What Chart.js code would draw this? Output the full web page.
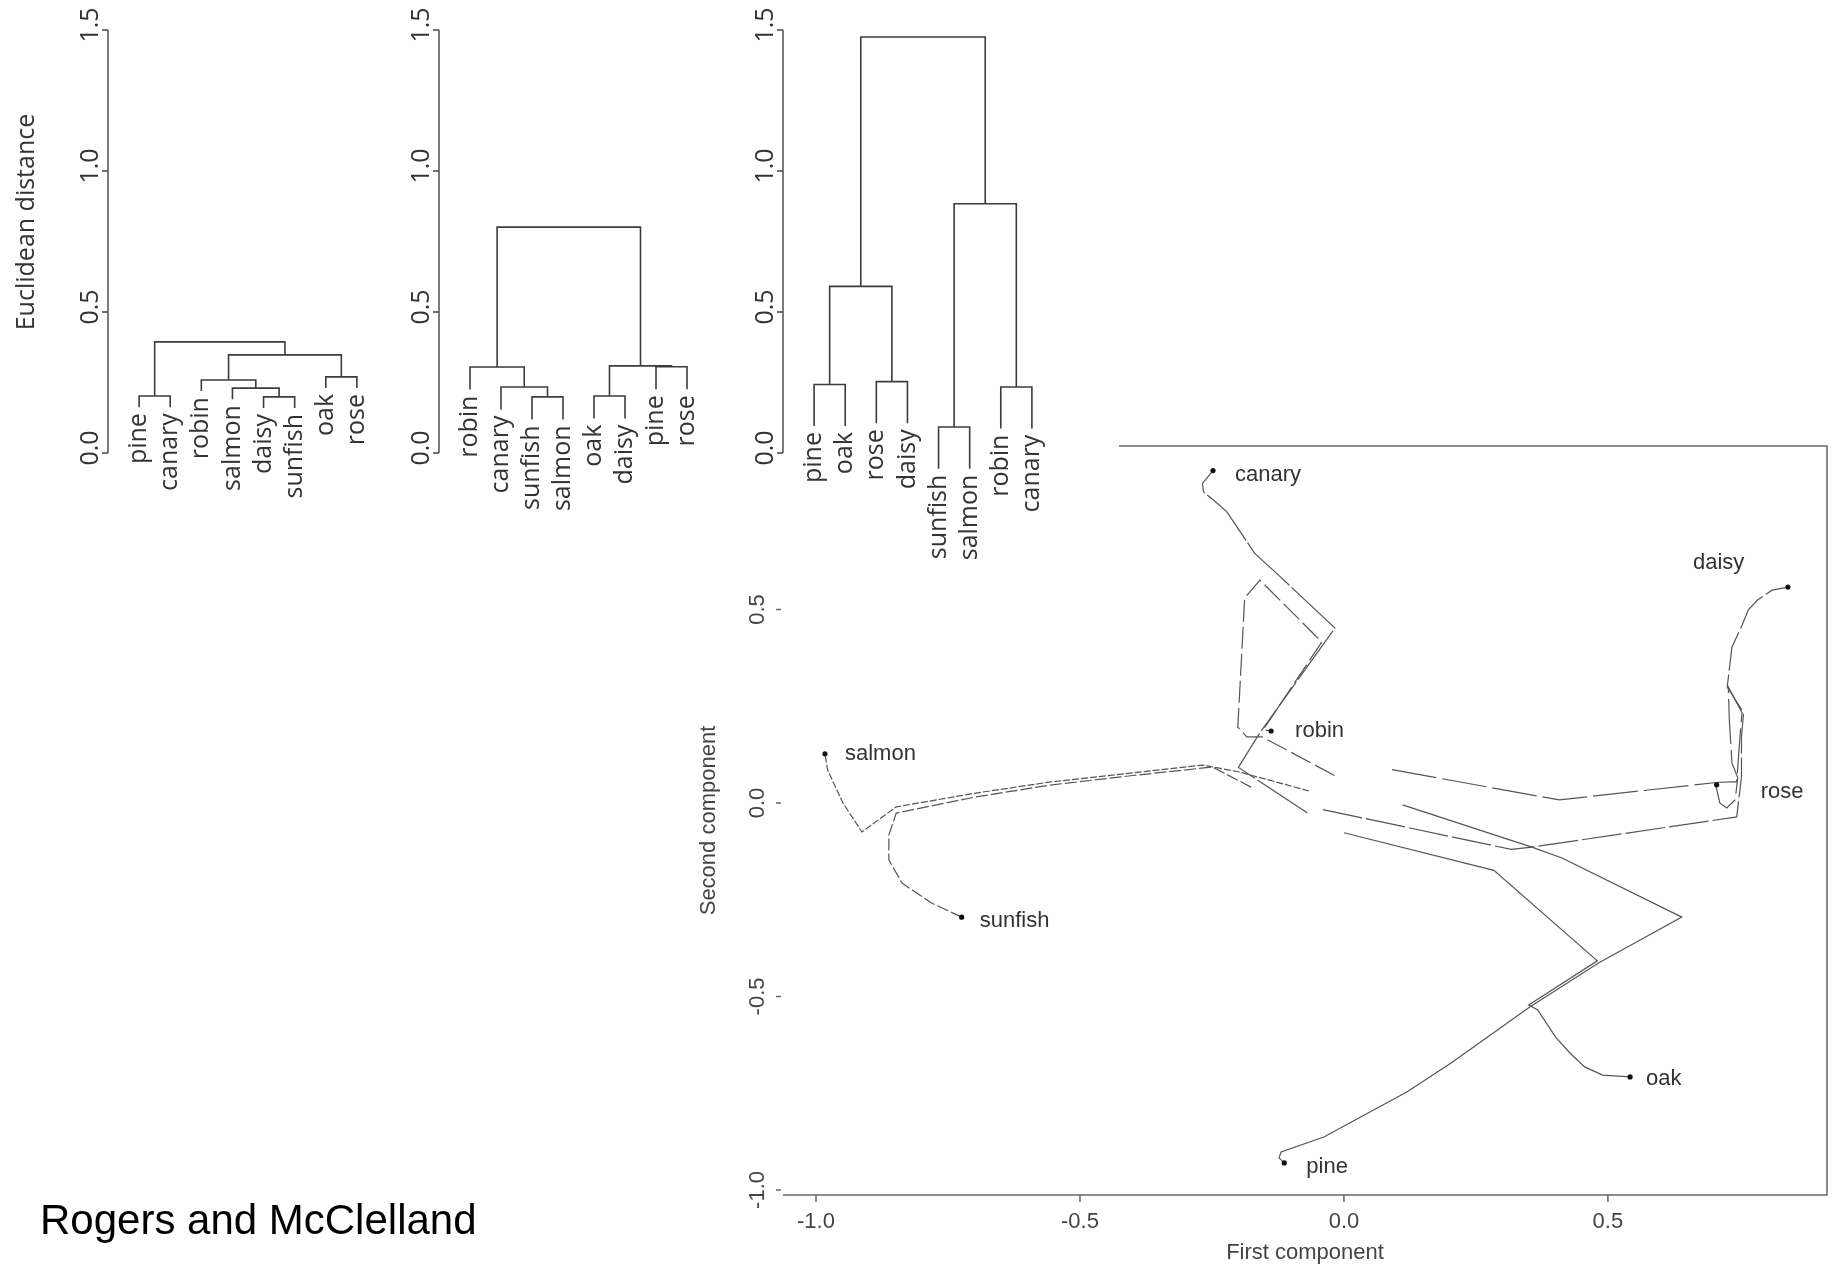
<!DOCTYPE html>
<html>
<head>
<meta charset="utf-8">
<script src="https://cdn.jsdelivr.net/npm/chart.js@4.4.1/dist/chart.umd.min.js"></script>
<style>
  html, body { margin: 0; padding: 0; background: #fff; }
  #page { position: relative; width: 1837px; height: 1270px; overflow: hidden; }
  #page canvas { position: absolute; left: 0; top: 0; }
  #credit {
    position: absolute; left: 40px; top: 1199px;
    font-family: "Liberation Sans", Arial, sans-serif;
    font-size: 42px; line-height: 42px; color: #000; white-space: nowrap;
  }
</style>
</head>
<body>
<div id="page">
  <canvas id="pcaChart" width="1837" height="1270"></canvas>
  <canvas id="dendro1" width="1837" height="1270"></canvas>
  <canvas id="dendro2" width="1837" height="1270"></canvas>
  <canvas id="dendro3" width="1837" height="1270"></canvas>
  <div id="credit">Rogers and McClelland</div>
</div>

<script>
// ---------- dendrogram data (leaf order, hclust-style merges, merge heights) ----------
const distTicks = [0, 0.5, 1, 1.5];

const leaves1 = ['pine', 'canary', 'robin', 'salmon', 'daisy', 'sunfish', 'oak', 'rose'];
const merges1 = [[-1, -2], [-5, -6], [-4, 2], [-3, 3], [-7, -8], [4, 5], [1, 6]];
const heights1 = [0.202, 0.199, 0.230, 0.259, 0.270, 0.348, 0.394];

const leaves2 = ['robin', 'canary', 'sunfish', 'salmon', 'oak', 'daisy', 'pine', 'rose'];
const merges2 = [[-3, -4], [-2, 1], [-1, 2], [-5, -6], [-7, -8], [4, 5], [3, 6]];
const heights2 = [0.199, 0.234, 0.305, 0.202, 0.306, 0.309, 0.801];

const leaves3 = ['pine', 'oak', 'rose', 'daisy', 'sunfish', 'salmon', 'robin', 'canary'];
const merges3 = [[-5, -6], [-1, -2], [-7, -8], [-3, -4], [2, 4], [1, 3], [5, 6]];
const heights3 = [0.092, 0.243, 0.234, 0.253, 0.591, 0.884, 1.475];

// ---------- trajectories in the first two principal components ----------
const itemNames = ['canary', 'robin', 'salmon', 'sunfish', 'daisy', 'rose', 'oak', 'pine'];

const canaryPath = [[-0.069, -0.026], [-0.200, 0.092], [-0.160, 0.180], [-0.017, 0.452], [-0.128, 0.594],
  [-0.169, 0.645], [-0.222, 0.753], [-0.244, 0.779], [-0.266, 0.804], [-0.268, 0.826], [-0.248, 0.859]];
const robinPath = [[-0.018, 0.071], [-0.155, 0.171], [-0.184, 0.171], [-0.201, 0.196], [-0.195, 0.350],
  [-0.188, 0.530], [-0.159, 0.576], [-0.042, 0.416], [-0.153, 0.189], [-0.138, 0.186]];
const salmonPath = [[-0.066, 0.031], [-0.198, 0.080], [-0.267, 0.098], [-0.400, 0.078], [-0.558, 0.054],
  [-0.700, 0.025], [-0.848, -0.010], [-0.913, -0.075], [-0.949, 0.000], [-0.978, 0.085], [-0.983, 0.127]];
const sunfishPath = [[-0.176, 0.041], [-0.249, 0.093], [-0.400, 0.071], [-0.558, 0.046], [-0.700, 0.015],
  [-0.848, -0.026], [-0.862, -0.083], [-0.862, -0.147], [-0.837, -0.207], [-0.782, -0.258], [-0.724, -0.295]];
const daisyPath = [[-0.040, -0.017], [0.317, -0.120], [0.356, -0.114], [0.744, -0.036], [0.753, 0.067],
  [0.753, 0.171], [0.757, 0.233], [0.726, 0.300], [0.735, 0.403], [0.753, 0.456], [0.766, 0.499],
  [0.784, 0.525], [0.811, 0.550], [0.841, 0.558]];
const rosePath = [[0.091, 0.086], [0.408, 0.008], [0.705, 0.053], [0.744, 0.055], [0.750, 0.170],
  [0.754, 0.233], [0.728, 0.300], [0.730, 0.214], [0.735, 0.103], [0.746, 0.065], [0.741, 0.008],
  [0.725, -0.013], [0.712, 0.000], [0.705, 0.041], [0.706, 0.047]];
const oakPath = [[0.000, -0.077], [0.284, -0.174], [0.480, -0.408], [0.350, -0.522], [0.367, -0.535],
  [0.401, -0.605], [0.428, -0.646], [0.456, -0.682], [0.490, -0.703], [0.542, -0.708]];
const pinePath = [[0.111, -0.005], [0.356, -0.114], [0.413, -0.142], [0.640, -0.295], [0.483, -0.413],
  [0.352, -0.527], [0.203, -0.672], [0.119, -0.747], [-0.038, -0.863], [-0.119, -0.902], [-0.123, -0.917],
  [-0.113, -0.930]];

const itemPaths = [canaryPath, robinPath, salmonPath, sunfishPath, daisyPath, rosePath, oakPath, pinePath];

const pcaTicks = [-1, -0.5, 0, 0.5];
const pcaXRange = [-1.0625, 0.915];
const pcaYRange = [-1.013, 0.9225];

// ---------- styles ----------
const dendroFont = '25px "Open Sans", "Noto Sans", sans-serif';
const pcaFont = '22px "Liberation Sans", Arial, sans-serif';
const dashStyles = { canary: [60, 3], robin: [22, 5], salmon: [7, 2], sunfish: [12, 3],
                     daisy: [40, 4], rose: [45, 6], oak: [], pine: [] };
// label offset from the end point, in pixels
const labelOffsets = { canary: [22, 4], robin: [24, 0], salmon: [20, 0], sunfish: [18, 4],
                       daisy: [-95, -24], rose: [44, 7], oak: [16, 2], pine: [22, 4] };

// Turn merges into U-shaped line pieces, like plot(hclust) does
function buildDendrogram(merges, heights) {
    const hang = 0.1 * Math.max(...heights);
    const nodeX = [];
    const leafEnd = {};
    const xOf = c => (c < 0 ? -c - 1 : nodeX[c - 1]);
    const bottomOf = (c, h) => {
        if (c < 0) { leafEnd[-c - 1] = h - hang; return h - hang; }
        return heights[c - 1];
    };
    const pieces = merges.map(([a, b], i) => {
        const h = heights[i];
        const xa = xOf(a), xb = xOf(b);
        nodeX.push((xa + xb) / 2);
        return [
            { x: xa, y: bottomOf(a, h) }, { x: xa, y: h },
            { x: xb, y: h }, { x: xb, y: bottomOf(b, h) }
        ];
    });
    return { pieces, leafEnd };
}

// Axis, tick labels and leaf labels for a dendrogram
const dendroAxisPlugin = {
    id: 'dendroAxis',
    afterDraw(chart, args, opts) {
        const { ctx, chartArea, scales: { x, y } } = chart;
        const ax = chartArea.left;
        ctx.save();
        ctx.strokeStyle = '#444';
        ctx.lineWidth = 1.4;
        ctx.beginPath();
        ctx.moveTo(ax, y.getPixelForValue(0));
        ctx.lineTo(ax, y.getPixelForValue(1.5));
        distTicks.forEach(t => {
            const py = y.getPixelForValue(t);
            ctx.moveTo(ax - 6, py);
            ctx.lineTo(ax, py);
        });
        ctx.stroke();

        ctx.fillStyle = '#333';
        ctx.font = dendroFont;
        ctx.textBaseline = 'middle';
        // tick labels
        distTicks.forEach(t => {
            ctx.save();
            ctx.translate(ax - 17, y.getPixelForValue(t) - 5);
            ctx.rotate(-Math.PI / 2);
            ctx.textAlign = 'center';
            ctx.fillText(t.toFixed(1), 0, 0);
            ctx.restore();
        });
        // leaf labels, reading upwards, ending under the leaf
        opts.labels.forEach((name, i) => {
            ctx.save();
            ctx.translate(x.getPixelForValue(i), y.getPixelForValue(opts.leafEnd[i]) + 6);
            ctx.rotate(-Math.PI / 2);
            ctx.textAlign = 'right';
            ctx.fillText(name, 0, 0);
            ctx.restore();
        });
        if (opts.title) {
            ctx.save();
            ctx.translate(27, 222);
            ctx.rotate(-Math.PI / 2);
            ctx.textAlign = 'center';
            ctx.fillText(opts.title, 0, 0);
            ctx.restore();
        }
        ctx.restore();
    }
};

function makeDendrogram(canvasId, labels, merges, heights, padding, title) {
    const tree = buildDendrogram(merges, heights);
    return new Chart(document.getElementById(canvasId), {
        type: 'scatter',
        data: {
            datasets: tree.pieces.map(p => ({
                data: p,
                showLine: true,
                borderColor: '#3c3c3c',
                borderWidth: 1.6,
                pointRadius: 0,
                clip: false
            }))
        },
        options: {
            responsive: false,
            animation: false,
            events: [],
            layout: { padding },
            scales: {
                x: { type: 'linear', min: -1, max: 8, display: false },
                y: { type: 'linear', min: 0, max: 1.5, display: false }
            },
            plugins: {
                legend: { display: false },
                tooltip: { enabled: false },
                dendroAxis: { labels, leafEnd: tree.leafEnd, title }
            }
        },
        plugins: [dendroAxisPlugin]
    });
}

makeDendrogram('dendro1', leaves1, merges1, heights1, { left: 108, right: 1449, top: 30, bottom: 817 }, 'Euclidean distance');
makeDendrogram('dendro2', leaves2, merges2, heights2, { left: 439, right: 1119, top: 30, bottom: 817 }, null);
makeDendrogram('dendro3', leaves3, merges3, heights3, { left: 783, right: 774, top: 30, bottom: 817 }, null);

// Frame, ticks, axis titles and item labels for the trajectory plot
const pcaFramePlugin = {
    id: 'pcaFrame',
    afterDraw(chart) {
        const { ctx, chartArea: a, scales: { x, y } } = chart;
        ctx.save();
        ctx.strokeStyle = '#666';
        ctx.lineWidth = 1.5;
        ctx.beginPath();
        ctx.moveTo(a.left, a.bottom);
        ctx.lineTo(a.right, a.bottom);
        ctx.lineTo(a.right, a.top);
        ctx.lineTo(1119, a.top); // the rest of the top edge is hidden under the dendrogram panel
        pcaTicks.forEach(v => {
            const px = x.getPixelForValue(v);
            ctx.moveTo(px, a.bottom);
            ctx.lineTo(px, a.bottom + 7);
            const py = y.getPixelForValue(v);
            ctx.moveTo(a.left - 7, py);
            ctx.lineTo(a.left - 2, py);
        });
        ctx.stroke();

        ctx.fillStyle = '#444';
        ctx.font = pcaFont;
        ctx.textBaseline = 'middle';
        ctx.textAlign = 'center';
        pcaTicks.forEach(v => {
            ctx.fillText(v.toFixed(1), x.getPixelForValue(v), a.bottom + 27);
            ctx.save();
            ctx.translate(a.left - 25, y.getPixelForValue(v));
            ctx.rotate(-Math.PI / 2);
            ctx.fillText(v.toFixed(1), 0, 0);
            ctx.restore();
        });
        ctx.fillText('First component', (a.left + a.right) / 2, a.bottom + 58);
        ctx.save();
        ctx.translate(a.left - 74, (a.top + a.bottom) / 2);
        ctx.rotate(-Math.PI / 2);
        ctx.fillText('Second component', 0, 0);
        ctx.restore();

        // labels at the end of each trajectory
        ctx.textAlign = 'left';
        ctx.fillStyle = '#333';
        itemNames.forEach((name, i) => {
            const path = itemPaths[i];
            const [vx, vy] = path[path.length - 1];
            const off = labelOffsets[name];
            ctx.fillText(name, x.getPixelForValue(vx) + off[0], y.getPixelForValue(vy) + off[1]);
        });
        ctx.restore();
    }
};

new Chart(document.getElementById('pcaChart'), {
    type: 'scatter',
    data: {
        datasets: itemNames.map((name, i) => ({
            label: name,
            data: itemPaths[i].map(([px, py]) => ({ x: px, y: py })),
            showLine: true,
            borderColor: '#555',
            borderWidth: 1.2,
            borderDash: dashStyles[name],
            pointRadius: c => (c.dataIndex === itemPaths[i].length - 1 ? 2.6 : 0),
            pointBackgroundColor: '#111',
            pointBorderWidth: 0
        }))
    },
    options: {
        responsive: false,
        animation: false,
        events: [],
        layout: { padding: { left: 783, right: 10, top: 446, bottom: 75 } },
        scales: {
            x: { type: 'linear', min: pcaXRange[0], max: pcaXRange[1], display: false },
            y: { type: 'linear', min: pcaYRange[0], max: pcaYRange[1], display: false }
        },
        plugins: {
            legend: { display: false },
            tooltip: { enabled: false }
        }
    },
    plugins: [pcaFramePlugin]
});
</script>
</body>
</html>
